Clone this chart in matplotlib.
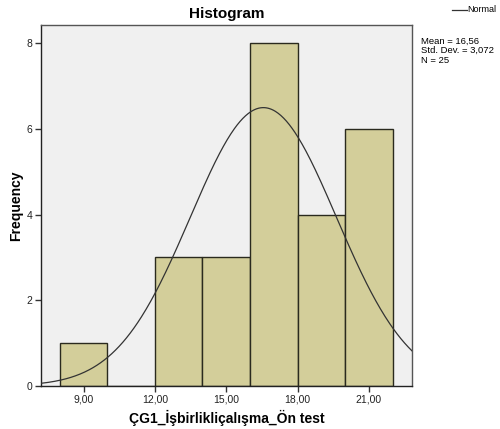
import numpy as np
import matplotlib
matplotlib.use("Agg")
import matplotlib.pyplot as plt

plt.rcParams['font.family'] = ['Liberation Sans', 'DejaVu Sans']

# histogram data (bin edges and counts)
bin_edges = [8, 10, 12, 14, 16, 18, 20, 22]
counts = [1, 0, 3, 3, 8, 4, 6]
mean = 16.56
std_dev = 3.072
n = 25
x_ticks = [9, 12, 15, 18, 21]
x_tick_labels = ["9,00", "12,00", "15,00", "18,00", "21,00"]
y_ticks = [0, 2, 4, 6, 8]

fig = plt.figure(figsize=(5, 4.29), dpi=100)
fig.patch.set_facecolor("white")
ax = fig.add_axes([0.082, 0.1002, 0.742, 0.8415])
ax.set_facecolor("#F0F0F0")

widths = np.diff(bin_edges)
ax.bar(bin_edges[:-1], counts, width=widths, align="edge",
       color="#D3CE9A", edgecolor="#2A2A1E", linewidth=1.0, zorder=2)

xs = np.linspace(7.21, 22.81, 400)
binw = bin_edges[1] - bin_edges[0]
ys = n * binw / (std_dev * np.sqrt(2 * np.pi)) * np.exp(-0.5 * ((xs - mean) / std_dev) ** 2)
ax.plot(xs, ys, color="#333333", linewidth=0.9, zorder=3)

ax.set_xlim(7.21, 22.81)
ax.set_ylim(0, 8.42)
ax.set_xticks(x_ticks)
ax.set_xticklabels(x_tick_labels, fontsize=7.5, color="#222222")
ax.set_yticks(y_ticks)
ax.set_yticklabels([str(v) for v in y_ticks], fontsize=7.5, color="#222222")
ax.tick_params(length=4, width=1, color="#333333", pad=2)
for s in ax.spines.values():
    s.set_color("#555555")
    s.set_linewidth(1.0)
ax.spines["left"].set_color("#222222")
ax.spines["bottom"].set_color("#222222")

ax.set_xlabel("ÇG1_İşbirlikliçalışma_Ön test", fontsize=10, fontweight="bold", labelpad=4)
ax.set_ylabel("Frequency", fontsize=10, fontweight="bold", labelpad=3)
ax.set_title("Histogram", fontsize=11, fontweight="bold", pad=5)

# legend-like annotations
fig.lines.append(plt.Line2D([0.903, 0.933], [0.977, 0.977], color="#333333",
                            linewidth=0.9, transform=fig.transFigure))
fig.text(0.934, 0.977, "Normal", fontsize=6.5, va="center", ha="left")
fig.text(0.842, 0.914, "Mean = 16,56\nStd. Dev. = 3,072\nN = 25",
         fontsize=6.8, va="top", ha="left", linespacing=1.05)

fig.savefig("out.png", dpi=100)
